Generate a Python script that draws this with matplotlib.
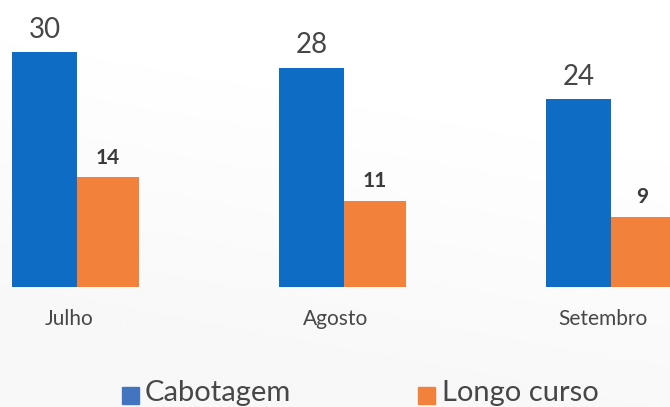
import numpy as np
import matplotlib.pyplot as plt
from matplotlib.patches import Rectangle

meses = ["Julho", "Agosto", "Setembro"]
cabotagem = [30, 28, 24]
longo_curso = [14, 11, 9]

azul = "#0f6cc4"
laranja = "#f2813c"
texto = "#474747"

plt.rcParams["font.family"] = ["Lato", "DejaVu Sans"]

fig = plt.figure(figsize=(6.70, 4.07), dpi=100)

# very light background, white at top, faintly grey towards bottom left
bg = fig.add_axes([0, 0, 1, 1], zorder=-1)
yy, xx = np.mgrid[0:1:200j, 0:1:200j]
grad = 1 - 0.03 * np.clip(yy * 1.3 - xx * 0.4, 0, 1)
bg.imshow(grad, cmap="gray", vmin=0, vmax=1, extent=[0, 1, 0, 1], aspect="auto")
bg.axis("off")

ax = fig.add_axes([0, 0.2948, 1, 0.7052])
ax.patch.set_alpha(0)
x = np.arange(len(meses))
wb = 65 / 267
wl = 62 / 267
ax.bar(x - wb / 2, cabotagem, width=wb, color=azul)
ax.bar(x + wl / 2, longo_curso, width=wl, color=laranja)
ax.set_xlim(-77 / 267, (670 - 77) / 267)
ax.set_ylim(0, 36.65)
ax.axis("off")

for i in range(len(meses)):
    ax.text(x[i] - wb / 2, cabotagem[i] + 1.2, str(cabotagem[i]), ha="center", va="bottom",
            fontsize=20, color=texto)
    ax.text(x[i] + wl / 2, longo_curso[i] + 1.2, str(longo_curso[i]), ha="center", va="bottom",
            fontsize=15, fontweight="bold", color="#3a3a3a")
    ax.text(x[i] - 0.03, -4.1, meses[i], ha="center", va="center",
            fontsize=15, color=texto)

# legend at bottom (partly cut off)
fig.patches.append(Rectangle((122 / 670, 1 - 404 / 407), 17 / 670, 17 / 407,
                             transform=fig.transFigure, color="#4374bf"))
fig.text(145 / 670, 1 - 393 / 407, "Cabotagem", fontsize=21,
         color=texto, va="center")
fig.patches.append(Rectangle((418 / 670, 1 - 404 / 407), 17 / 670, 17 / 407,
                             transform=fig.transFigure, color=laranja))
fig.text(442 / 670, 1 - 393 / 407, "Longo curso", fontsize=21,
         color=texto, va="center")

plt.savefig("out.png", dpi=100)
plt.close()
